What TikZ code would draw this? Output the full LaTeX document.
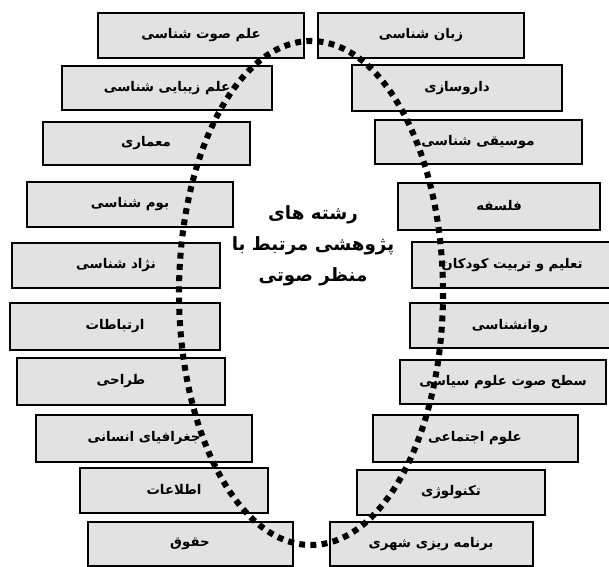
\documentclass[tikz,border=0pt]{standalone}
\usepackage{fontspec}
\usepackage{tikz}
\TeXXeTstate=1
\newfontfamily\farsi[Script=Arabic]{DejaVu Sans}
\definecolor{fondo}{RGB}{226,226,226}
\tikzset{
  caja/.style={draw=black, line width=2pt, fill=fondo},
  texto/.style={font=\farsi\bfseries\fontsize{9.5}{12}\selectfont},
  titulo/.style={font=\farsi\bfseries\fontsize{13}{22}\selectfont, align=center},
  puntos/.style={line width=4.3pt, dash pattern=on 4.2pt off 3.8pt}
}

\begin{document}
\begin{tikzpicture}[x=0.025cm, y=-0.025cm]
    \useasboundingbox (0,0) rectangle (609,566);

    %Cajas de la izquierda
    \draw[caja] (98,13) rectangle (304,58);
    \node[texto] (l1) at (201,35) {\beginR علم صوت شناسی\endR};
    \draw[caja] (62,66) rectangle (272,110);
    \node[texto] (l2) at (167,88) {\beginR علم زیبایی شناسی\endR};
    \draw[caja] (43,122) rectangle (250,165);
    \node[texto] (l3) at (146,143) {\beginR معماری\endR};
    \draw[caja] (27,182) rectangle (233,227);
    \node[texto] (l4) at (130,204) {\beginR بوم شناسی\endR};
    \draw[caja] (12,243) rectangle (220,288);
    \node[texto] (l5) at (116,265) {\beginR نژاد شناسی\endR};
    \draw[caja] (10,303) rectangle (220,350);
    \node[texto] (l6) at (115,326) {\beginR ارتباطات\endR};
    \draw[caja] (17,358) rectangle (225,405);
    \node[texto] (l7) at (121,381) {\beginR طراحی\endR};
    \draw[caja] (36,415) rectangle (252,462);
    \node[texto] (l8) at (144,438) {\beginR جغرافیای انسانی\endR};
    \draw[caja] (80,468) rectangle (268,513);
    \node[texto] (l9) at (174,490) {\beginR اطلاعات\endR};
    \draw[caja] (88,522) rectangle (293,566);
    \node[texto] (l10) at (190,544) {\beginR حقوق\endR};

    %Cajas de la derecha
    \draw[caja] (318,13) rectangle (524,58);
    \node[texto] (r1) at (421,35) {\beginR زبان شناسی\endR};
    \draw[caja] (352,65) rectangle (562,111);
    \node[texto] (r2) at (457,88) {\beginR داروسازی\endR};
    \draw[caja] (375,120) rectangle (582,164);
    \node[texto] (r3) at (478,142) {\beginR موسیقی شناسی\endR};
    \draw[caja] (398,183) rectangle (600,230);
    \node[texto] (r4) at (499,206) {\beginR فلسفه\endR};
    \draw[caja] (412,242) rectangle (612,288);
    \node[texto] (r5) at (512,265) {\beginR تعلیم و تربیت کودکان\endR};
    \draw[caja] (410,303) rectangle (612,348);
    \node[texto] (r6) at (510,326) {\beginR روانشناسی\endR};
    \draw[caja] (400,360) rectangle (606,404);
    \node[texto] (r7) at (503,382) {\beginR سطح صوت علوم سیاسی\endR};
    \draw[caja] (373,415) rectangle (578,462);
    \node[texto] (r8) at (475,438) {\beginR علوم اجتماعی\endR};
    \draw[caja] (357,470) rectangle (545,515);
    \node[texto] (r9) at (451,492) {\beginR تکنولوژی\endR};
    \draw[caja] (330,522) rectangle (533,566);
    \node[texto] (r10) at (431,544) {\beginR برنامه ریزی شهری\endR};

    %Linea de puntos (encima de las cajas)
    \draw[puntos] (311,293) ellipse [x radius=132, y radius=252];

    %Texto central
    \node[titulo] (centro) at (313,246)
      {\beginR رشته های\endR\\ \beginR پژوهشی مرتبط با\endR\\ \beginR منظر صوتی\endR};
\end{tikzpicture}
\end{document}
